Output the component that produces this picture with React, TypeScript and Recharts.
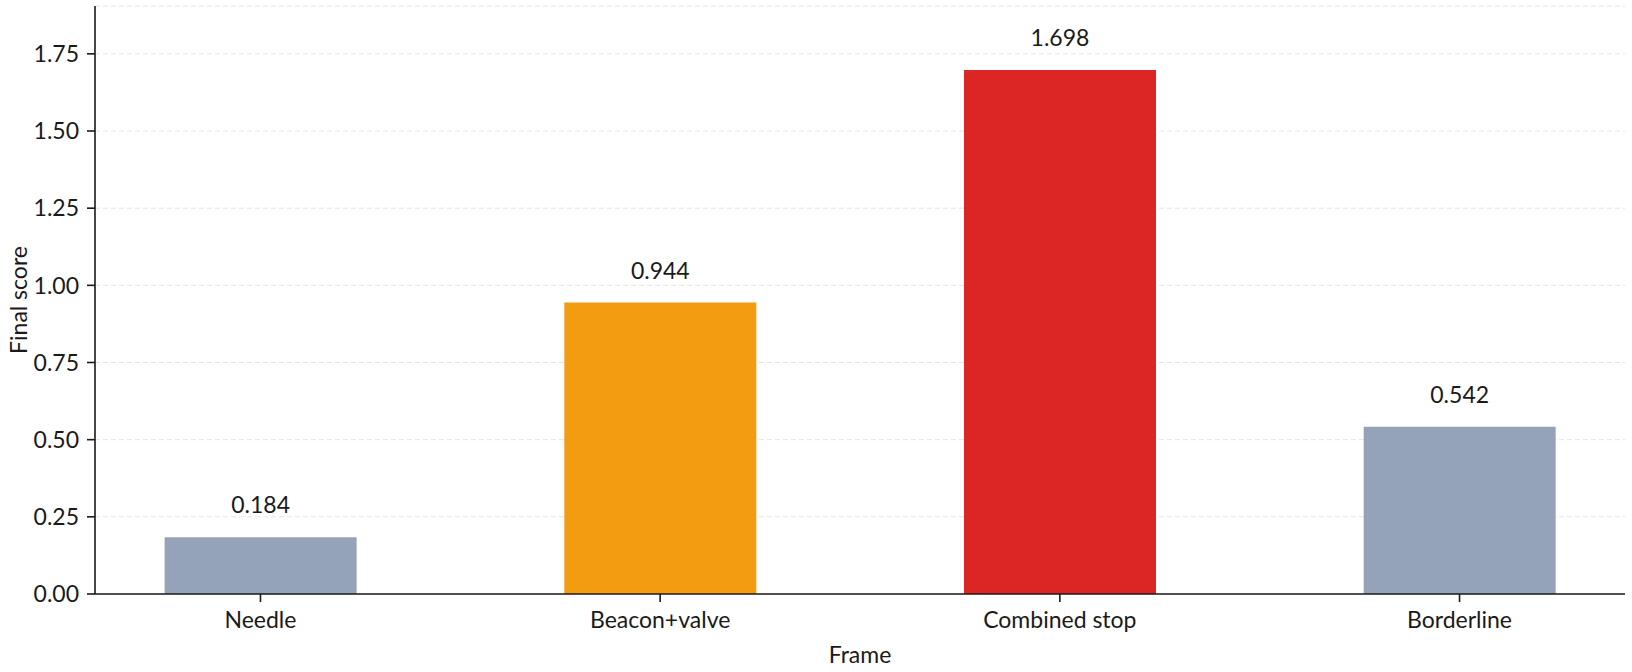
import { BarChart, Bar, XAxis, YAxis, CartesianGrid, Cell, LabelList } from "recharts";

const categories = ["Needle", "Beacon+valve", "Combined stop", "Borderline"];
const scores = [0.184, 0.944, 1.698, 0.542];
const barColors = ["#94a3b8", "#f39c12", "#dc2626", "#94a3b8"];
const yTicks = [0, 0.25, 0.5, 0.75, 1.0, 1.25, 1.5, 1.75];

const rows = categories.map((name, i) => ({ idx: i, name, score: scores[i] }));

const FONT = "Lato, 'Noto Sans', sans-serif";
const INK = "#1a1a1a";
const FS = 23;

export default function App() {
  return (
    <div style={{ position: "absolute", left: 0, top: 0, fontFamily: FONT }}>
      <BarChart
        width={1632}
        height={672}
        data={rows}
        margin={{ top: 6, right: 7, bottom: 0, left: 0 }}
      >
        <CartesianGrid vertical={false} stroke="#e4e4e4" strokeDasharray="5 3" />
        <XAxis
          dataKey="idx"
          type="number"
          domain={[-0.414, 3.414]}
          ticks={[0, 1, 2, 3]}
          interval={0}
          tickFormatter={(v: number) => categories[v] ?? ""}
          height={78}
          tickSize={8}
          tickMargin={10}
          stroke={INK}
          strokeWidth={1.6}
          tick={{ fill: INK, fontSize: FS, fontFamily: FONT }}
          tickLine={{ stroke: INK, strokeWidth: 1.6 }}
          label={{ value: "Frame", position: "insideBottom", offset: 9, fill: INK, fontSize: FS, fontFamily: FONT }}
        />
        <YAxis
          type="number"
          domain={[0, 1.905]}
          ticks={yTicks}
          interval={0}
          width={95}
          tickSize={8}
          tickMargin={8}
          stroke={INK}
          strokeWidth={1.6}
          tickFormatter={(v: number) => v.toFixed(2)}
          tick={{ fill: INK, fontSize: FS, fontFamily: FONT }}
          tickLine={{ stroke: INK, strokeWidth: 1.6 }}
          label={{
            value: "Final score",
            angle: -90,
            position: "insideLeft",
            offset: 19,
            fill: INK,
            fontSize: FS,
            fontFamily: FONT,
            style: { textAnchor: "middle" },
          }}
        />
        <Bar dataKey="score" barSize={192} isAnimationActive={false}>
          {rows.map((r, i) => (
            <Cell key={r.name} fill={barColors[i]} />
          ))}
          <LabelList
            dataKey="score"
            position="top"
            offset={24}
            formatter={(v: number) => v.toFixed(3)}
            style={{ fill: INK, fontSize: FS, fontFamily: FONT }}
          />
        </Bar>
      </BarChart>
    </div>
  );
}
